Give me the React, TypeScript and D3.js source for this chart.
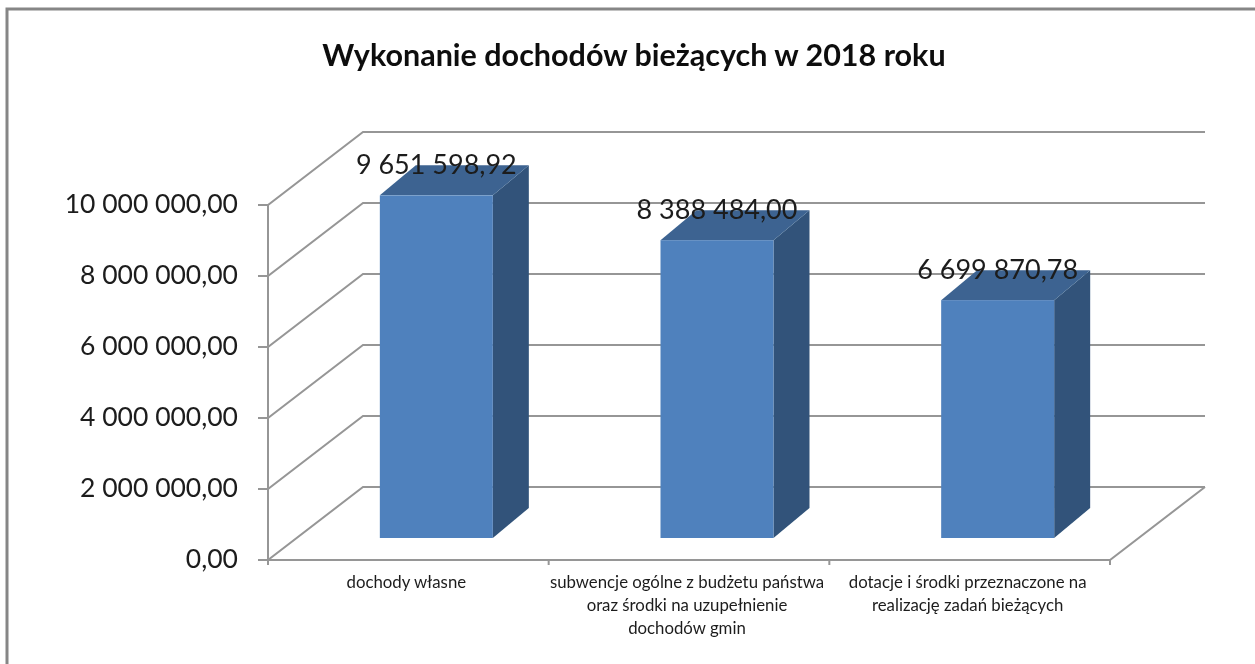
import React from "react";
import * as d3 from "d3";

const width = 1255;
const height = 664;

const title = "Wykonanie dochodów bieżących w 2018 roku";
const categories = ["dochody własne", "subwencje", "dotacje"];
const categoryLines = [
  ["dochody własne"],
  ["subwencje ogólne z budżetu państwa", "oraz środki na uzupełnienie", "dochodów gmin"],
  ["dotacje i środki przeznaczone na", "realizację zadań bieżących"],
];
const values = [9651598.92, 8388484.0, 6699870.78];
const yTicks = [0, 2000000, 4000000, 6000000, 8000000, 10000000];

const plLocale = d3.formatLocale({
  decimal: ",",
  thousands: " ",
  grouping: [3],
  currency: ["", " zł"],
});
const fmt = plLocale.format(",.2f");

const GRID = "#969696";
const TEXT = "#1c1c1c";
const FONT = "Lato, 'Open Sans', sans-serif";

// 3D box offsets
const wallDx = 95;
const wallDy = 73;
const barDepthX = 36;
const barDepthY = 30;
const barFrontX = 28; // bars stand inside the floor
const barFrontY = 22;

export default function App() {
  const x = d3.scaleBand<string>().domain(categories).range([268, 1110]);
  const y = d3.scaleLinear().domain([0, 10000000]).range([560, 205]);
  const barWidth = 113;
  const xEdges = [...categories.map((c) => x(c) as number), 1110];
  const poly = d3.line();

  return (
    <svg
      width={width}
      height={height}
      style={{ position: "absolute", left: 0, top: 0 }}
      fontFamily={FONT}
    >
      <defs>
        {/* the reference is a slightly soft screenshot */}
        <filter id="soft" x="0" y="0" width="100%" height="100%" filterUnits="userSpaceOnUse">
          <feGaussianBlur stdDeviation={0.45} />
        </filter>
      </defs>
      <rect width={width} height={height} fill="#fff" />
      <g filter="url(#soft)">
        <path d="M7,664V9H1255" fill="none" stroke="#868686" strokeWidth={3} />

        <text x={634} y={66} textAnchor="middle" fontSize={30.5} fontWeight={700} fill="#111">
          {title}
        </text>

        {/* walls and gridlines */}
        <g fill="none" stroke={GRID} strokeWidth={2}>
          {yTicks.map((t) => (
            <path
              key={t}
              d={
                poly([
                  [258, y(t)],
                  [268, y(t)],
                  [268 + wallDx, y(t) - wallDy],
                  [1205, y(t) - wallDy],
                ]) as string
              }
            />
          ))}
          <path d={`M268,${y(10000000)}V565`} />
          <path d={poly([[268, y(0)], [1110, y(0)], [1205, y(0) - wallDy]]) as string} />
          {xEdges.map((e) => (
            <path key={e} d={`M${e},${y(0)}V565`} />
          ))}
        </g>

        {/* bars */}
        {categories.map((c, i) => {
          const x0 = (x(c) as number) + (x.bandwidth() - barWidth) / 2 + barFrontX;
          const x1 = x0 + barWidth;
          const top = y(values[i]) - barFrontY;
          const bottom = y(0) - barFrontY;
          return (
            <g key={c}>
              <path
                d={
                  poly([
                    [x1, top],
                    [x1 + barDepthX, top - barDepthY],
                    [x1 + barDepthX, bottom - barDepthY],
                    [x1, bottom],
                  ]) + "Z"
                }
                fill="#31537a"
              />
              <path
                d={
                  poly([
                    [x0, top],
                    [x0 + barDepthX, top - barDepthY],
                    [x1 + barDepthX, top - barDepthY],
                    [x1, top],
                  ]) + "Z"
                }
                fill="#3c6491"
              />
              <rect x={x0} y={top} width={barWidth} height={bottom - top} fill="#4f81bd" />
              <text
                x={(x0 + x1) / 2}
                y={top - 21}
                textAnchor="middle"
                fontSize={27}
                fill={TEXT}
              >
                {fmt(values[i])}
              </text>
            </g>
          );
        })}

        {/* y tick labels */}
        {yTicks.map((t) => (
          <text key={t} x={238} y={y(t) + 8} textAnchor="end" fontSize={26.5} fill={TEXT}>
            {fmt(t)}
          </text>
        ))}

        {/* category labels */}
        {categories.map((c, i) =>
          categoryLines[i].map((line, j) => (
            <text
              key={line}
              x={(x(c) as number) + x.bandwidth() / 2 - 2}
              y={588 + j * 23}
              textAnchor="middle"
              fontSize={16.8}
              fill={TEXT}
            >
              {line}
            </text>
          ))
        )}
      </g>
    </svg>
  );
}
